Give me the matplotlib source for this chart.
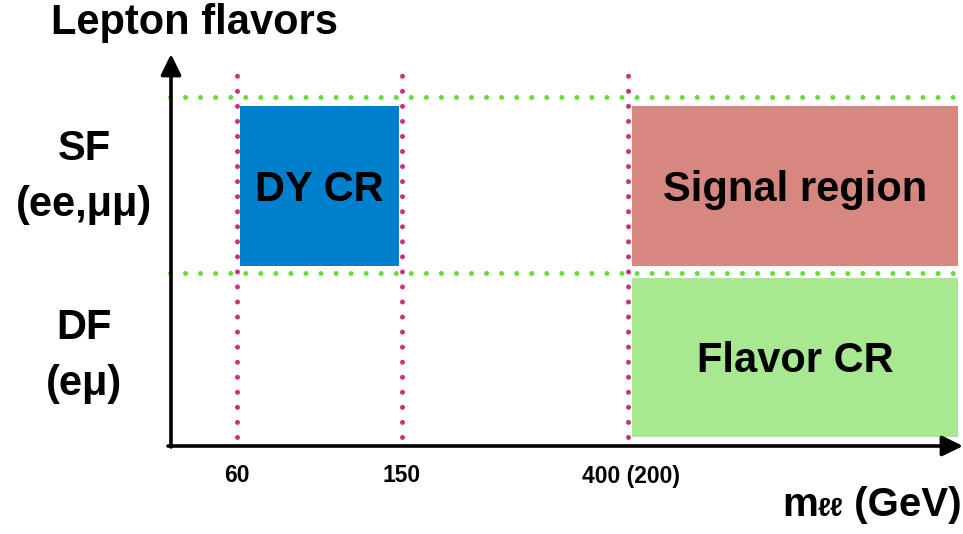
import matplotlib
matplotlib.use("Agg")
import matplotlib.pyplot as plt
from matplotlib.patches import Rectangle
from matplotlib.offsetbox import TextArea, HPacker, AnnotationBbox

plt.rcParams['font.family'] = ['Liberation Sans', 'DejaVu Sans']
plt.rcParams['font.weight'] = 'bold'

# ---- schematic data (units: axis length in schematic units from the origin) ----
mll_cut_labels = ["60", "150", "400 (200)"]
mll_cut_pos = [66, 231, 457]              # positions of m_ll cuts on the schematic axis
flavor_rows = ["SF\n(ee,μμ)", "DF\n(eμ)"]
row_edges = [9, 173, 349]                 # DF bottom, SF/DF boundary, SF top

region_names = ["DY CR", "Signal region", "Flavor CR"]
region_x0 = [69, 461, 461]
region_x1 = [228, 787, 787]
region_y0 = [180, 180, 9]
region_y1 = [340, 340, 168]
region_colors = ["#0080CC", "#D68880", "#A8E890"]

W, H = 963, 534
fig = plt.figure(figsize=(W / 100, H / 100), dpi=100)
ox, oy = 171, 446            # origin in pixels
ax = fig.add_axes([ox / W, (H - oy) / H, (W - ox) / W, (oy - 54) / H])
ax.set_xlim(0, W - ox)
ax.set_ylim(0, oy - 54)
ax.axis('off')

# regions
for name, x0, x1, y0, y1, c in zip(region_names, region_x0, region_x1,
                                   region_y0, region_y1, region_colors):
    ax.add_patch(Rectangle((x0, y0), x1 - x0, y1 - y0, facecolor=c,
                           edgecolor='none', zorder=1))
    ax.text((x0 + x1) / 2, (y0 + y1) / 2 - 4, name, ha='center', va='center',
            fontsize=30, fontweight='bold', color='black', zorder=5)

# dotted cut lines
dot = dict(lw=3.6, dash_capstyle='round', solid_capstyle='round', zorder=3,
           clip_on=False)
for xp in mll_cut_pos:
    ax.plot([xp, xp], [row_edges[0], 381], color='#CE2F7E',
            ls=(0, (0.01, 3.0)), **dot)
for yp in row_edges[1:]:
    ax.plot([-1, W - ox], [yp, yp], color='#66DD3A',
            ls=(0, (0.01, 3.0)), **dot)

# axes arrows
arr = dict(arrowstyle='-|>,head_length=0.45,head_width=0.22', lw=2.6,
           color='black', shrinkA=0, shrinkB=0, mutation_scale=28)
ax.annotate('', xy=(0, oy - 54), xytext=(0, -1), arrowprops=arr,
            annotation_clip=False)
ax.annotate('', xy=(W - ox, 0), xytext=(-3, 0), arrowprops=arr,
            annotation_clip=False)

# tick labels
tick_offsets = [0, 0, 3]
for lab, xp, off in zip(mll_cut_labels, mll_cut_pos, tick_offsets):
    ax.text(xp + off, -30, lab, ha='center', va='center', fontsize=16.5,
            fontweight='bold', clip_on=False)

# row labels
row_centers_px = [(149, 205), (328, 384)]
for lab, (y1p, y2p) in zip(flavor_rows, row_centers_px):
    l1, l2 = lab.split("\n")
    fig.text(84 / W, 1 - y1p / H, l1, ha='center', va='center',
             fontsize=30, fontweight='bold')
    fig.text(84 / W, 1 - y2p / H, l2, ha='center', va='center',
             fontsize=30, fontweight='bold')

# axis titles
fig.text(194 / W, 1 - 23 / H, "Lepton flavors", ha='center', va='center',
         fontsize=30, fontweight='bold')

tp_big = dict(fontsize=29, fontweight='bold', color='black')
tp_small = dict(fontsize=19, fontweight='bold', color='black')
pack = HPacker(children=[TextArea("m", textprops=tp_big),
                         TextArea("ℓℓ", textprops=tp_small),
                         TextArea(" (GeV)", textprops=tp_big)],
               align='baseline', pad=0, sep=0)
ab = AnnotationBbox(pack, (962 / W, 1 - 505 / H), xycoords='figure fraction',
                    box_alignment=(1, 0.5), frameon=False, pad=0)
fig.add_artist(ab)

fig.savefig("out.png", dpi=100)
